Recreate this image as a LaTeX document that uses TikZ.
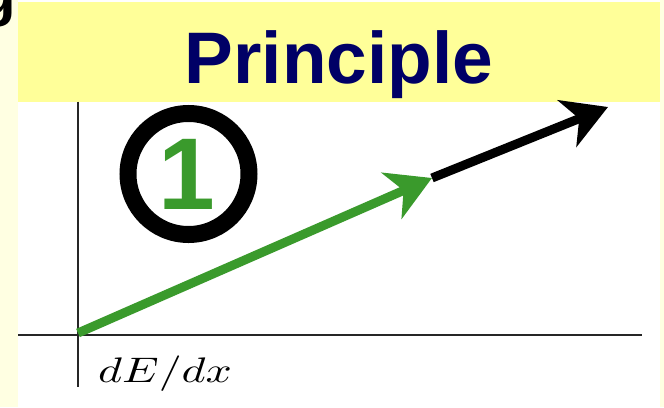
\documentclass[tikz,border=0pt]{standalone}
\usepackage{fontspec}
\newfontfamily\hsans{Liberation Sans}
\usetikzlibrary{arrows.meta}
\definecolor{band}{RGB}{255,255,153}
\definecolor{pale}{RGB}{255,255,226}
\definecolor{navy}{RGB}{0,0,102}
\definecolor{vgreen}{RGB}{58,154,44}
\tikzset{
  axisline/.style={draw=black!85, line width=2.6pt},
  vecline/.style={line width=9pt, -{Stealth[length=44pt, width=50pt, inset=13pt]}},
}
\begin{document}
\begin{tikzpicture}[x=1pt,y=-1pt]
\useasboundingbox (0,0) rectangle (664,407);
\fill[pale] (0,0) rectangle (664,407);
\fill[white] (18,0) rectangle (660,407);
\fill[band] (18,2) rectangle (660,101.5);
\begin{scope}
  \clip (0,0) rectangle (18,407);
  \node[anchor=base east, inner sep=0pt, font=\hsans\bfseries\fontsize{60}{60}\selectfont] (gfrag) at (16,14) {g};
\end{scope}
\node[anchor=base, inner sep=0pt, text=navy, font=\hsans\bfseries\fontsize{73}{73}\selectfont] (title) at (339,83) {Principle};
% axes
\coordinate (ytop) at (78,101.5);
\coordinate (ybot) at (78,387);
\coordinate (xl) at (18,335);
\coordinate (xr) at (642,335);
\draw[axisline] (ytop) -- (ybot);
\draw[axisline] (xl) -- (xr);
\node[anchor=base west, inner sep=0pt] (lab) at (98,382) {\scalebox{4.6}[3.55]{$dE/dx$}};
% circled one
\node[circle, draw=black, line width=17pt, minimum size=121pt, inner sep=0pt] (ring) at (188.5,174) {};
\node[inner sep=0pt, text=vgreen, font=\hsans\bfseries\fontsize{102}{102}\selectfont] (one) at (186.5,174.5) {1};
% vectors
\coordinate (o) at (78,333);
\coordinate (g) at (432,178);
\coordinate (b) at (608,107);
\draw[vecline, black] (g) -- (b);
\draw[vecline, vgreen] (o) -- (g);
\end{tikzpicture}
\end{document}
